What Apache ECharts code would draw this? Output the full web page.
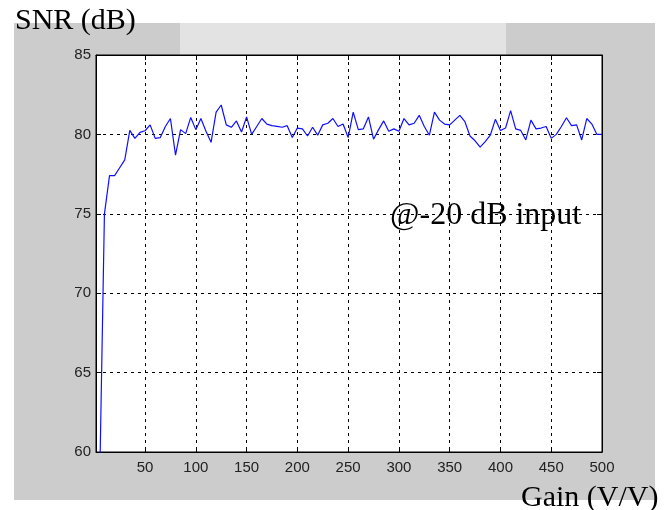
<!DOCTYPE html>
<html>
<head>
<meta charset="utf-8">
<script src="https://cdn.jsdelivr.net/npm/echarts@6/dist/echarts.min.js"></script>
<style>
  html, body { margin: 0; padding: 0; background: #fff; }
  #main { width: 667px; height: 510px; }
</style>
</head>
<body>
<div id="main"></div>
<script>
// gain (V/V), sampled every 5
var gain = [];
for (var g = 5; g <= 500; g += 5) gain.push(g);

// SNR (dB), one value per gain step
var snr = [
  57.0, 75.0, 77.4, 77.4, 77.9, 78.4, 80.25, 79.75, 80.13, 80.23,
  80.6, 79.75, 79.8, 80.5, 81.0, 78.7, 80.3, 80.05, 81.07, 80.3,
  81.0, 80.2, 79.5, 81.4, 81.85, 80.6, 80.45, 80.85, 80.15, 81.1,
  80.0, 80.5, 81.0, 80.65, 80.55, 80.5, 80.45, 80.55, 79.8, 80.4,
  80.35, 79.9, 80.45, 79.95, 80.6, 80.7, 81.0, 80.5, 80.65, 79.8,
  81.4, 80.3, 80.35, 81.1, 79.7, 80.3, 80.85, 80.2, 80.35, 80.2,
  81.0, 80.6, 80.7, 81.2, 80.5, 79.95, 81.4, 80.9, 80.65, 80.6,
  80.9, 81.2, 80.8, 79.9, 79.6, 79.2, 79.55, 79.95, 80.95, 80.25,
  80.4, 81.5, 80.35, 80.25, 79.65, 80.9, 80.35, 80.4, 80.5, 79.75,
  80.0, 80.5, 81.05, 80.55, 80.6, 79.65, 81.0, 80.65, 80.0, 80.0
];

var xTicks = [50, 100, 150, 200, 250, 300, 350, 400, 450, 500];

var points = gain.map(function (g, i) { return [g, snr[i]]; });

var chart = echarts.init(document.getElementById('main'));

var tickFont = { fontFamily: 'Liberation Sans', fontSize: 15, color: '#222' };

var option = {
  backgroundColor: '#ffffff',
  animation: false,
  grid: {
    left: 96, top: 55, width: 506, height: 397,
    show: true, backgroundColor: '#ffffff', borderColor: '#000', borderWidth: 1
  },
  graphic: [
    // gray figure background
    { type: 'rect', z: -10, shape: { x: 14, y: 23, width: 641, height: 477 }, style: { fill: '#cccccc' } },
    { type: 'rect', z: -9, shape: { x: 180, y: 23, width: 326, height: 32 }, style: { fill: '#e3e3e3' } },
    { type: 'text', left: 15, top: 6, style: { text: 'SNR (dB)', font: '30px "Liberation Serif"', fill: '#000' } },
    { type: 'text', left: 521, top: 483, style: { text: 'Gain (V/V)', font: '30px "Liberation Serif"', fill: '#000' } },
    { type: 'text', left: 390, top: 200, z: 100, style: { text: '@-20 dB input', font: '32px "Liberation Serif"', fill: '#000' } }
  ],
  xAxis: [{
    type: 'value', min: 1.7, max: 500,
    axisLine: { show: true, onZero: false, lineStyle: { color: '#000' } },
    axisTick: { show: true, inside: true, length: 5, customValues: xTicks, lineStyle: { color: '#000' } },
    axisLabel: Object.assign({ customValues: xTicks, margin: 8 }, tickFont),
    splitLine: { show: true, lineStyle: { color: '#000', type: [3, 4], width: 1 } }
  }, {
    type: 'value', min: 1.7, max: 500, position: 'top',
    axisLine: { show: true, lineStyle: { color: '#000' } },
    axisTick: { show: true, inside: true, length: 5, customValues: xTicks, lineStyle: { color: '#000' } },
    axisLabel: { show: false },
    splitLine: { show: false }
  }],
  yAxis: [{
    type: 'value', min: 60, max: 85, interval: 5,
    axisLine: { show: true, onZero: false, lineStyle: { color: '#000' } },
    axisTick: { show: true, inside: true, length: 5, lineStyle: { color: '#000' } },
    axisLabel: Object.assign({ margin: 5 }, tickFont),
    splitLine: { show: true, lineStyle: { color: '#000', type: [3, 4], width: 1 } }
  }, {
    type: 'value', min: 60, max: 85, interval: 5, position: 'right',
    axisLine: { show: true, lineStyle: { color: '#000' } },
    axisTick: { show: true, inside: true, length: 5, lineStyle: { color: '#000' } },
    axisLabel: { show: false },
    splitLine: { show: false }
  }],
  series: [{
    type: 'line',
    data: points,
    showSymbol: false,
    clip: true,
    lineStyle: { color: '#0f0fff', width: 1.2 }
  }]
};

chart.setOption(option);
</script>
</body>
</html>
